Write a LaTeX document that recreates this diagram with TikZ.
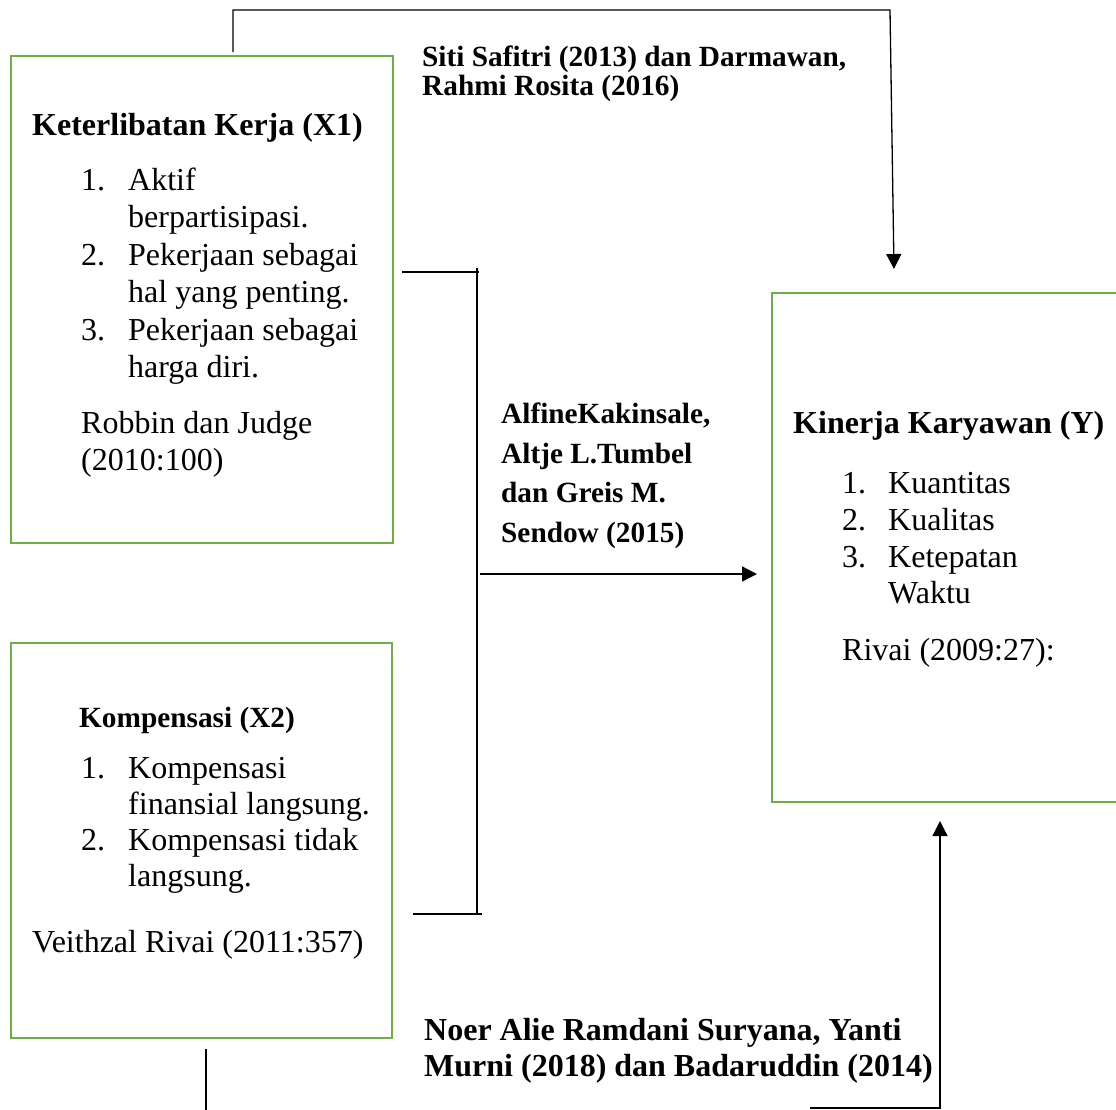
\documentclass[tikz,border=0pt]{standalone}
\usepackage{fontspec}
\setmainfont{Liberation Serif}
\usetikzlibrary{arrows.meta}
\definecolor{boxgreen}{HTML}{70AD47}
\begin{document}
\begin{tikzpicture}[x=1pt,y=-1pt,
  gbox/.style={draw=boxgreen, line width=2.7pt, anchor=north west, inner sep=0pt, outer sep=0pt},
  conn/.style={line width=1.3pt, black},
  arr/.style={conn, -{Triangle[length=15pt,width=15pt]}},
  txt/.style={anchor=base west, inner sep=0pt, font=\fontsize{32}{37}\selectfont},
  btxt/.style={anchor=base west, inner sep=0pt, font=\fontsize{32}{37}\selectfont\bfseries},
  bsmall/.style={anchor=base west, inner sep=0pt, font=\fontsize{29.3}{34}\selectfont\bfseries}]
\useasboundingbox (0,0) rectangle (1116,1109);
\clip (0,0) rectangle (1116,1109);

% boxes
\node[gbox, minimum width=382pt, minimum height=487pt] (x1) at (11,56) {};
\node[gbox, minimum width=381pt, minimum height=395pt] (x2) at (11,643) {};
\node[gbox, minimum width=400pt, minimum height=509pt] (y) at (772,293) {};

% X1 text
\node[btxt] (x1h) at (32,135) {Keterlibatan Kerja (X1)};
\node[txt] (x1n1) at (81,190) {1.};
\node[txt] (x1a) at (128,190) {Aktif};
\node[txt] (x1b) at (128,227) {berpartisipasi.};
\node[txt] (x1n2) at (81,265) {2.};
\node[txt] (x1c) at (128,265) {Pekerjaan sebagai};
\node[txt] (x1d) at (128,302) {hal yang penting.};
\node[txt] (x1n3) at (81,340) {3.};
\node[txt] (x1e) at (128,340) {Pekerjaan sebagai};
\node[txt] (x1f) at (128,377) {harga diri.};
\node[txt] (x1r1) at (81,433) {Robbin dan Judge};
\node[txt] (x1r2) at (81,470) {(2010:100)};

% X2 text
\node[bsmall] (x2h) at (79,727) {Kompensasi (X2)};
\node[txt] (x2n1) at (81,778) {1.};
\node[txt] (x2a) at (128,778) {Kompensasi};
\node[txt] (x2b) at (128,814) {finansial langsung.};
\node[txt] (x2n2) at (81,850) {2.};
\node[txt] (x2c) at (128,850) {Kompensasi tidak};
\node[txt] (x2d) at (128,886) {langsung.};
\node[txt] (x2r) at (32,952) {Veithzal Rivai (2011:357)};

% Y text
\node[btxt] (yh) at (793,433) {Kinerja Karyawan (Y)};
\node[txt] (yn1) at (842,493) {1.};
\node[txt] (ya) at (888,493) {Kuantitas};
\node[txt] (yn2) at (842,530) {2.};
\node[txt] (yb) at (888,530) {Kualitas};
\node[txt] (yn3) at (842,567) {3.};
\node[txt] (yc) at (888,567) {Ketepatan};
\node[txt] (yd) at (888,603) {Waktu};
\node[txt] (yr) at (842,660) {Rivai (2009:27):};

% citation labels
\node[bsmall] (top1) at (422,66) {Siti Safitri (2013) dan Darmawan,};
\node[bsmall] (top2) at (422,95) {Rahmi Rosita (2016)};
\node[bsmall] (mid1) at (501,423) {AlfineKakinsale,};
\node[bsmall] (mid2) at (501,463) {Altje L.Tumbel};
\node[bsmall] (mid3) at (501,502) {dan Greis M.};
\node[bsmall] (mid4) at (501,542) {Sendow (2015)};
\node[btxt] (bot1) at (424,1040) {Noer Alie Ramdani Suryana, Yanti};
\node[btxt] (bot2) at (424,1076) {Murni (2018) dan Badaruddin (2014)};

% connector coordinates
\coordinate (t0) at (233,52);
\coordinate (t1) at (233,10);
\coordinate (t2) at (890,10);
\coordinate (t3) at (894,269);
\coordinate (b1) at (402,272);
\coordinate (b2) at (479,272);
\coordinate (b3) at (477,268);
\coordinate (b4) at (477,914);
\coordinate (b5) at (413,914);
\coordinate (b6) at (482,914);
\coordinate (m1) at (480,574);
\coordinate (m2) at (757,574);
\coordinate (l1) at (206,1049);
\coordinate (l2) at (206,1112);
\coordinate (r1) at (810,1108);
\coordinate (r2) at (940,1108);
\coordinate (r3) at (940,821);

% connectors
\draw[arr] (t0) -- (t1) -- (t2) -- (t3);
\draw[conn] (b1) -- (b2);
\draw[conn] (b3) -- (b4);
\draw[conn] (b5) -- (b6);
\draw[arr] (m1) -- (m2);
\draw[conn] (l1) -- (l2);
\draw[arr] (r1) -- (r2) -- (r3);
\end{tikzpicture}
\end{document}
